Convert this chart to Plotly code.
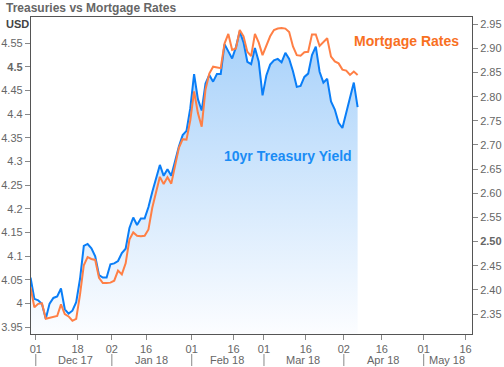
import plotly.graph_objects as go

# ---------------- data ----------------
DATES = [
    "2017-11-29", "2017-11-30", "2017-12-01",
    "2017-12-04", "2017-12-05", "2017-12-06", "2017-12-07", "2017-12-08",
    "2017-12-11", "2017-12-12", "2017-12-13", "2017-12-14", "2017-12-15",
    "2017-12-18", "2017-12-19", "2017-12-20", "2017-12-21", "2017-12-22",
    "2017-12-26", "2017-12-27", "2017-12-28", "2017-12-29",
    "2018-01-02", "2018-01-03", "2018-01-04", "2018-01-05",
    "2018-01-08", "2018-01-09", "2018-01-10", "2018-01-11", "2018-01-12",
    "2018-01-16", "2018-01-17", "2018-01-18", "2018-01-19",
    "2018-01-22", "2018-01-23", "2018-01-24", "2018-01-25", "2018-01-26",
    "2018-01-29", "2018-01-30", "2018-01-31",
    "2018-02-01", "2018-02-02",
    "2018-02-05", "2018-02-06", "2018-02-07", "2018-02-08", "2018-02-09",
    "2018-02-12", "2018-02-13", "2018-02-14", "2018-02-15", "2018-02-16",
    "2018-02-20", "2018-02-21", "2018-02-22", "2018-02-23",
    "2018-02-26", "2018-02-27", "2018-02-28",
    "2018-03-01", "2018-03-02",
    "2018-03-05", "2018-03-06", "2018-03-07", "2018-03-08", "2018-03-09",
    "2018-03-12", "2018-03-13", "2018-03-14", "2018-03-15", "2018-03-16",
    "2018-03-19", "2018-03-20", "2018-03-21", "2018-03-22", "2018-03-23",
    "2018-03-26", "2018-03-27", "2018-03-28", "2018-03-29",
    "2018-04-02", "2018-04-03", "2018-04-04", "2018-04-05",
]
TREASURY_10YR = [
    4.055, 4.010, 4.007,
    3.999, 3.968, 4.000, 4.012, 4.015,
    4.032, 3.988, 3.979, 3.985, 4.003,
    4.052, 4.122, 4.126, 4.117, 4.100,
    4.060, 4.055, 4.055, 4.083,
    4.085, 4.090, 4.107, 4.116,
    4.160, 4.182, 4.166, 4.180, 4.180,
    4.204, 4.236, 4.265, 4.293,
    4.270, 4.284, 4.270, 4.302, 4.332,
    4.356, 4.365, 4.413,
    4.485, 4.432,
    4.408, 4.465, 4.483, 4.469, 4.485,
    4.485, 4.548, 4.533, 4.518, 4.542,
    4.575, 4.552, 4.511, 4.506,
    4.540, 4.511, 4.440,
    4.482, 4.505,
    4.514, 4.517, 4.510, 4.530, 4.517,
    4.491, 4.458, 4.460, 4.479, 4.486,
    4.525, 4.543, 4.490, 4.467, 4.475,
    4.427, 4.410, 4.382, 4.371,
    4.403, 4.432, 4.467, 4.415,
]
MORTGAGE_RATES = [
    2.405, 2.364, 2.371,
    2.372, 2.340, 2.342, 2.343, 2.346,
    2.370, 2.350, 2.345, 2.336, 2.340,
    2.390, 2.451, 2.468, 2.464, 2.462,
    2.425, 2.414, 2.414, 2.415,
    2.419, 2.440, 2.432, 2.455,
    2.504, 2.519, 2.512, 2.511, 2.512,
    2.525, 2.570, 2.604, 2.634,
    2.619, 2.633, 2.620, 2.654, 2.694,
    2.712, 2.711, 2.751,
    2.811, 2.766,
    2.738, 2.815, 2.848, 2.862, 2.861,
    2.859, 2.910, 2.930, 2.897, 2.900,
    2.938, 2.925, 2.893, 2.884,
    2.930, 2.912, 2.886,
    2.905, 2.925,
    2.938, 2.941, 2.942, 2.941, 2.934,
    2.904, 2.886, 2.885, 2.892, 2.893,
    2.929, 2.929, 2.905, 2.913, 2.921,
    2.883, 2.873, 2.869, 2.856,
    2.854, 2.845, 2.852, 2.845,
]
HOLIDAYS = ["2017-12-25", "2018-01-01", "2018-01-15", "2018-02-19", "2018-03-30"]

X_TICK_DATES = ["2017-12-01", "2017-12-18", "2018-01-02", "2018-01-16", "2018-02-01",
                "2018-02-16", "2018-03-01", "2018-03-16", "2018-04-02", "2018-04-16",
                "2018-05-01", "2018-05-16"]
X_TICK_TEXT = ["01", "18", "02", "16", "01", "16", "01", "16", "02", "16", "01", "16"]
MONTH_LABELS = ["Dec 17", "Jan 18", "Feb 18", "Mar 18", "Apr 18", "May 18"]
MONTH_LABEL_DATES = ["2017-12-15 10:00", "2018-01-17 10:00", "2018-02-14 08:00",
                     "2018-03-15 08:00", "2018-04-16 08:00", "2018-05-09 03:00"]
MONTH_START_DATES = ["2017-12-01", "2018-01-02", "2018-02-01", "2018-03-01",
                     "2018-04-02", "2018-05-01"]

LEFT_TICKS = [3.95, 4.0, 4.05, 4.1, 4.15, 4.2, 4.25, 4.3, 4.35, 4.4, 4.45, 4.5, 4.55]
LEFT_TEXT = ["3.95", "4", "4.05", "4.1", "4.15", "4.2", "4.25", "4.3", "4.35", "4.4",
             "4.45", "<b>4.5</b>", "4.55"]
RIGHT_TICKS = [2.35, 2.40, 2.45, 2.50, 2.55, 2.60, 2.65, 2.70, 2.75, 2.80, 2.85, 2.90, 2.95]
RIGHT_TEXT = ["2.35", "2.40", "2.45", "<b>2.50</b>", "2.55", "2.60", "2.65", "2.70",
              "2.75", "2.80", "2.85", "2.90", "2.95"]

# ---------------- style ----------------
BLUE = "#0a7ef7"
ORANGE = "#ff7f45"
FONT = "Liberation Sans"
GREY = "#666666"
AXIS = "#555555"

x = [d + " 15:00" for d in DATES]

fig = go.Figure()
fig.add_trace(go.Scatter(
    x=x, y=TREASURY_10YR, mode="lines", name="10yr Treasury Yield",
    line=dict(color=BLUE, width=2),
    fill="tozeroy",
    fillgradient=dict(type="vertical",
                      colorscale=[[0, "rgb(252,253,255)"], [1, "rgb(165,208,250)"]],
                      start=3.935, stop=4.59),
    yaxis="y",
))
fig.add_trace(go.Scatter(
    x=x, y=MORTGAGE_RATES, mode="lines", name="Mortgage Rates",
    line=dict(color=ORANGE, width=2), yaxis="y2",
))

tickfont = dict(family=FONT, size=11, color=GREY)

fig.update_layout(
    width=504, height=367,
    margin=dict(l=31, r=32, t=17, b=33, autoexpand=False),
    paper_bgcolor="white", plot_bgcolor="white",
    showlegend=False,
    xaxis=dict(
        type="date", automargin=False,
        range=["2017-11-29 17:45", "2018-05-17 16:48"],
        rangebreaks=[dict(bounds=["sat", "mon"]), dict(values=HOLIDAYS)],
        tickmode="array", tickvals=X_TICK_DATES, ticktext=X_TICK_TEXT,
        ticks="outside", ticklen=5, tickcolor="#888888",
        showgrid=False, zeroline=False,
        showline=True, linecolor=AXIS, linewidth=1.3, mirror=True,
        tickfont=tickfont,
    ),
    yaxis=dict(
        automargin=False,
        range=[3.9358, 4.6056],
        tickmode="array", tickvals=LEFT_TICKS, ticktext=LEFT_TEXT,
        ticks="outside", ticklen=5, tickcolor="#888888",
        showgrid=False, zeroline=False,
        showline=True, linecolor=AXIS, linewidth=1.3, mirror=True,
        tickfont=tickfont,
    ),
    yaxis2=dict(
        automargin=False,
        overlaying="y", side="right",
        range=[2.3086, 2.965],
        tickmode="array", tickvals=RIGHT_TICKS, ticktext=RIGHT_TEXT,
        ticks="outside", ticklen=5, tickcolor="#888888",
        showgrid=False, zeroline=False, showline=False,
        tickfont=tickfont,
    ),
)

annotations = [
    dict(text="<b>Treasuries vs Mortgage Rates</b>", xref="paper", yref="paper",
         x=-0.061, y=1.028, xanchor="left", yanchor="middle", showarrow=False,
         font=dict(family=FONT, size=12, color="#666666")),
    dict(text="<b>USD</b>", xref="paper", yref="paper",
         x=-0.061, y=0.979, xanchor="left", yanchor="middle", showarrow=False,
         font=dict(family=FONT, size=11, color="#444444")),
    dict(text="<b>Mortgage Rates</b>", xref="paper", yref="paper",
         x=0.729, y=0.923, xanchor="left", yanchor="middle", showarrow=False,
         font=dict(family=FONT, size=14, color="#f8701f")),
    dict(text="<b>10yr Treasury Yield</b>", xref="paper", yref="paper",
         x=0.4335, y=0.5625, xanchor="left", yanchor="middle", showarrow=False,
         font=dict(family=FONT, size=14, color="#1a8cf5")),
]
for lbl, d in zip(MONTH_LABELS, MONTH_LABEL_DATES):
    annotations.append(dict(text=lbl, xref="x", yref="paper", x=d, y=-0.082,
                            xanchor="center", yanchor="middle", showarrow=False,
                            font=dict(family=FONT, size=11, color=GREY)))
fig.update_layout(annotations=annotations)

shapes = []
for d in MONTH_START_DATES:
    shapes.append(dict(type="line", xref="x", yref="paper", x0=d, x1=d,
                       y0=-0.063, y1=-0.101, line=dict(color="#888888", width=1)))
fig.update_layout(shapes=shapes)

fig.write_html(
    "out.html",
    config={"displayModeBar": False},
    post_script="document.body.style.margin='0px';document.body.style.overflow='hidden';",
)
